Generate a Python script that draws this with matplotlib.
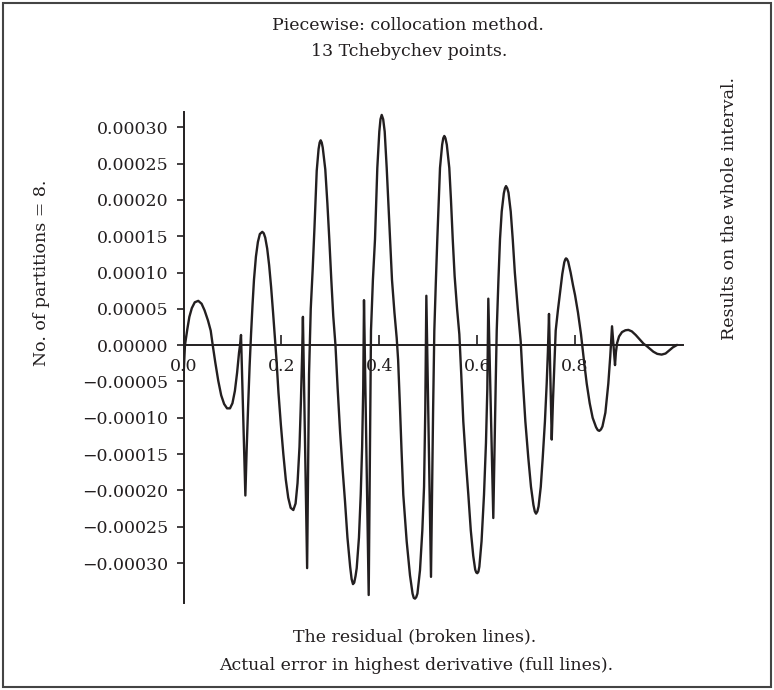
import numpy as np
import matplotlib
matplotlib.use('Agg')
import matplotlib.pyplot as plt
from matplotlib.patches import Rectangle
from matplotlib.ticker import FuncFormatter

# error curve, one piece per partition (8 partitions of [0, 1]),
# y in units of 1e-5; the pieces are drawn as one line, so each end jumps to the next start
p1_x = [0.0000, 0.0015, 0.0030, 0.0078, 0.0120, 0.0170, 0.0230, 0.0302, 0.0370, 0.0430,
        0.0500, 0.0556, 0.0597, 0.0650, 0.0710, 0.0770, 0.0830, 0.0890, 0.0950, 0.1000,
        0.1050, 0.1095, 0.1135, 0.1155, 0.1175]
p1_y = [-4.3, -2.0, 0.0, 2.2, 3.9, 5.1, 5.9, 6.1, 5.7, 4.8,
        3.4, 2.0, 0.0, -2.4, -4.9, -6.9, -8.1, -8.7, -8.7, -8.0,
        -6.3, -3.8, -1.0, 0.0, 1.4]

p2_x = [0.1264, 0.1290, 0.1320, 0.1350, 0.1380, 0.1410, 0.1440, 0.1480, 0.1520, 0.1560,
        0.1610, 0.1640, 0.1670, 0.1710, 0.1750, 0.1790, 0.1830, 0.1870, 0.1900, 0.1940,
        0.1990, 0.2040, 0.2090, 0.2140, 0.2190, 0.2244, 0.2290, 0.2330, 0.2370, 0.2400,
        0.2425, 0.2440]
p2_y = [-20.7, -14.5, -8.5, -3.0, 1.5, 5.5, 9.0, 12.2, 14.2, 15.3,
        15.6, 15.4, 14.8, 13.3, 11.0, 8.0, 4.5, 0.8, -2.0, -6.5,
        -11.0, -15.0, -18.5, -21.0, -22.4, -22.7, -21.8, -19.0, -14.0, -7.5,
        -1.0, 3.9]

p3_x = [0.2526, 0.2545, 0.2565, 0.2600, 0.2640, 0.2675, 0.2722, 0.2760, 0.2782, 0.2803,
        0.2824, 0.2845, 0.2897, 0.2940, 0.2979, 0.3020, 0.3060, 0.3105, 0.3150, 0.3200,
        0.3250, 0.3300, 0.3350, 0.3405, 0.3435, 0.3463, 0.3488, 0.3515, 0.3539, 0.3585,
        0.3621, 0.3650, 0.3672, 0.3688]
p3_y = [-30.7, -17.0, -4.0, 5.0, 10.5, 16.0, 24.0, 27.0, 27.9, 28.2,
        27.9, 27.2, 24.2, 19.5, 14.6, 9.0, 4.0, 0.0, -6.0, -12.0,
        -17.0, -21.5, -26.5, -30.5, -32.2, -32.9, -32.7, -31.8, -30.7, -26.5,
        -20.6, -14.0, -6.0, 6.2]

p4_x = [0.3784, 0.3800, 0.3815, 0.3831, 0.3870, 0.3913, 0.3960, 0.4001, 0.4025, 0.4050,
        0.4080, 0.4111, 0.4152, 0.4190, 0.4220, 0.4260, 0.4310, 0.4356, 0.4385, 0.4420,
        0.4455, 0.4491, 0.4560, 0.4628, 0.4680, 0.4705, 0.4730, 0.4755, 0.4780, 0.4832,
        0.4880, 0.4915, 0.4940, 0.4962]
p4_y = [-34.4, -22.0, -10.0, 2.0, 9.0, 14.6, 24.4, 29.4, 31.1, 31.7,
        31.1, 29.4, 24.4, 19.0, 14.6, 9.0, 4.5, 1.0, -2.0, -8.0,
        -14.5, -20.6, -27.0, -31.7, -34.2, -34.8, -34.9, -34.7, -34.2, -31.0,
        -25.5, -19.5, -9.0, 6.8]

p5_x = [0.5057, 0.5080, 0.5100, 0.5125, 0.5155, 0.5186, 0.5241, 0.5285, 0.5308, 0.5329,
        0.5352, 0.5380, 0.5431, 0.5465, 0.5501, 0.5540, 0.5590, 0.5636, 0.5675, 0.5717,
        0.5770, 0.5820, 0.5870, 0.5920, 0.5960, 0.5982, 0.6003, 0.6025, 0.6045, 0.6090,
        0.6140, 0.6180, 0.6208, 0.6228]
p5_y = [-31.9, -20.0, -9.0, 2.0, 8.5, 14.6, 24.4, 27.6, 28.5, 28.8,
        28.5, 27.6, 24.4, 20.0, 14.6, 9.5, 5.0, 1.5, -4.0, -10.5,
        -16.0, -20.6, -25.5, -29.0, -30.9, -31.3, -31.4, -31.2, -30.5, -27.0,
        -20.6, -13.5, -6.0, 6.4]

p6_x = [0.6330, 0.6355, 0.6380, 0.6400, 0.6435, 0.6467, 0.6502, 0.6545, 0.6568, 0.6590,
        0.6615, 0.6640, 0.6686, 0.6727, 0.6770, 0.6830, 0.6890, 0.6930, 0.6985, 0.7045,
        0.7100, 0.7150, 0.7178, 0.7203, 0.7230, 0.7255, 0.7300, 0.7340, 0.7385, 0.7421,
        0.7445, 0.7468]
p6_y = [-23.8, -14.0, -5.0, 2.0, 9.0, 14.6, 18.4, 20.9, 21.6, 21.9,
        21.6, 21.0, 18.4, 14.6, 10.0, 5.0, 0.5, -4.5, -10.5, -15.5,
        -19.5, -22.0, -22.9, -23.2, -22.9, -22.2, -19.5, -15.5, -10.5, -5.3,
        -1.0, 4.3]

p7_x = [0.7524, 0.7550, 0.7580, 0.7605, 0.7650, 0.7693, 0.7740, 0.7780, 0.7800, 0.7816,
        0.7835, 0.7860, 0.7910, 0.7960, 0.8000, 0.8060, 0.8122, 0.8180, 0.8239, 0.8300,
        0.8360, 0.8430, 0.8465, 0.8496, 0.8530, 0.8560, 0.8620, 0.8680, 0.8720, 0.8756]
p7_y = [-13.0, -7.5, -2.5, 2.0, 4.8, 7.2, 9.8, 11.4, 11.8, 11.95,
        11.85, 11.5, 10.0, 8.2, 6.9, 4.5, 1.5, -2.0, -5.3, -8.0,
        -10.0, -11.3, -11.7, -11.8, -11.6, -11.2, -9.3, -5.3, -1.5, 2.6]

p8_x = [0.8817, 0.8835, 0.8860, 0.8900, 0.8960, 0.9030, 0.9090, 0.9160, 0.9240, 0.9320,
        0.9400, 0.9460, 0.9530, 0.9600, 0.9680, 0.9770, 0.9850, 0.9920, 1.0000, 1.0078]
p8_y = [-2.75, -1.0, 0.3, 1.2, 1.8, 2.05, 2.1, 1.9, 1.4, 0.8,
        0.2, -0.1, -0.5, -0.9, -1.2, -1.3, -1.15, -0.75, -0.3, 0.0]

x_ticks = [0.0, 0.2, 0.4, 0.6, 0.8]
y_ticks = [-0.0003, -0.00025, -0.0002, -0.00015, -0.0001, -0.00005,
           0.0, 0.00005, 0.0001, 0.00015, 0.0002, 0.00025, 0.0003]

title_lines = ['Piecewise: collocation method.', '13 Tchebychev points.']
bottom_lines = ['The residual (broken lines).',
                'Actual error in highest derivative (full lines).']
left_label = 'No. of partitions = 8.'
right_label = 'Results on the whole interval.'

ink = '#231f20'
plt.rcParams['font.family'] = 'DejaVu Serif'
plt.rcParams['font.size'] = 12.5

W, H = 774, 690
fig = plt.figure(figsize=(W / 100, H / 100), dpi=100)
ax = fig.add_axes([183.5 / W, 1 - 603 / H, (682.7 - 183.5) / W, (603 - 112) / H])

x = np.concatenate([p1_x, p2_x, p3_x, p4_x, p5_x, p6_x, p7_x, p8_x])
y = np.concatenate([p1_y, p2_y, p3_y, p4_y, p5_y, p6_y, p7_y, p8_y]) * 1e-5
ax.plot(x, y, color=ink, lw=1.7, solid_joinstyle='round')

ax.set_xlim(0, 1.02)
ax.set_ylim(-35.5e-5, 32.1e-5)
ax.set_facecolor('none')

ax.spines['top'].set_visible(False)
ax.spines['right'].set_visible(False)
ax.spines['bottom'].set_position(('data', 0))
for s in ('left', 'bottom'):
    ax.spines[s].set_color(ink)
    ax.spines[s].set_linewidth(1.4)

ax.set_xticks(x_ticks)
ax.set_xticklabels(['%.1f' % v for v in x_ticks])
ax.set_yticks(y_ticks)
ax.yaxis.set_major_formatter(FuncFormatter(lambda v, p: ('%.5f' % v).replace('-', '\u2212')))
ax.tick_params(axis='x', direction='in', length=7, width=1.2, color=ink,
               labelcolor=ink, pad=9)
ax.tick_params(axis='y', direction='out', length=5, width=1.2, color=ink,
               labelcolor=ink, pad=6)

fig.text(408 / W, 1 - 26 / H, title_lines[0], ha='center', va='center', color=ink)
fig.text(409 / W, 1 - 52 / H, title_lines[1], ha='center', va='center', color=ink)
fig.text(415 / W, 1 - 637 / H, bottom_lines[0], ha='center', va='center', color=ink)
fig.text(416 / W, 1 - 665 / H, bottom_lines[1], ha='center', va='center', color=ink)
fig.text(42 / W, 1 - 273 / H, left_label, rotation=90, ha='center', va='center', color=ink)
fig.text(730 / W, 1 - 209 / H, right_label, rotation=90, ha='center', va='center', color=ink)

fig.add_artist(Rectangle((2.5 / W, 3.5 / H), (771 - 2.5) / W, (687 - 3.5) / H,
                         transform=fig.transFigure, fill=False, lw=1.5, edgecolor='#444444'))

fig.savefig('out.png', dpi=100)
